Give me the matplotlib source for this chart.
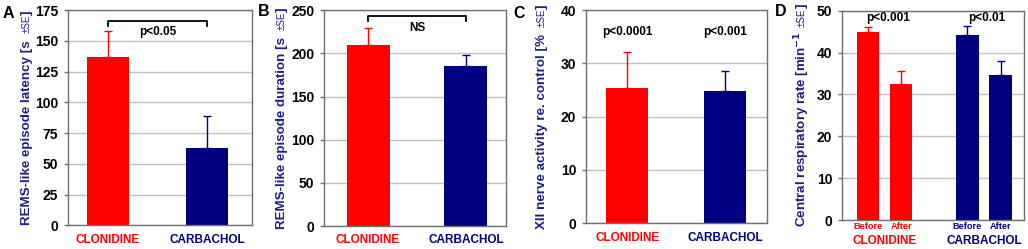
import matplotlib
matplotlib.use('Agg')
import matplotlib.pyplot as plt
import numpy as np

plt.rcParams['font.family'] = ['Liberation Sans', 'DejaVu Sans']
plt.rcParams['font.weight'] = 'bold'

groups = ['CLONIDINE', 'CARBACHOL']
colors = ['#FF0000', '#000080']
label_color = '#1F1F80'

latency = [137, 62.6]
latency_se = [21.2, 26.0]
duration = [210, 185]
duration_se = [19, 13]
xii = [25.3, 24.9]
xii_se = [6.9, 3.6]
resp_before = [44.8, 44.3]
resp_before_se = [1.4, 2.1]
resp_after = [32.6, 34.6]
resp_after_se = [3.0, 3.5]
phases = ['Before', 'After']

W, H = 1028, 249
fig = plt.figure(figsize=(W / 100, H / 100), dpi=100)


def add_axes(left, right, top, bottom):
    return fig.add_axes([left / W, 1 - bottom / H, (right - left) / W, (bottom - top) / H])


def setup(ax, ymax, step, xlim):
    ax.set_ylim(0, ymax)
    ax.set_yticks(np.arange(0, ymax + 1, step))
    ax.set_xlim(xlim)
    ax.yaxis.grid(True, color='#c0c0c0', lw=1)
    ax.set_axisbelow(True)
    for s in ax.spines.values():
        s.set_color('#707070')
        s.set_linewidth(1)
    ax.tick_params(axis='y', direction='out', length=3, width=1, color='#707070',
                   labelsize=10, pad=4)
    ax.tick_params(axis='x', length=0, pad=6, labelsize=8.5)


def bars(ax, x, vals, se, cols, width):
    ax.bar(x, vals, width, color=cols, zorder=2)
    for xi, v, e, c in zip(x, vals, se, cols):
        ax.errorbar(xi, v, yerr=[[0], [e]], color=c, lw=1, capsize=3, capthick=1, zorder=3)


def ylab(ax, xpix, main, small, end=']'):
    pieces = [(main, 9.6, 'bold'), (small, 7, 'normal'), (end, 9.6, 'bold')]
    texts = [fig.text(xpix / W, 0, t, rotation=90, ha='center', va='bottom',
                      fontsize=fs, fontweight=fw, color=label_color)
             for t, fs, fw in pieces]
    fig.canvas.draw()
    r = fig.canvas.get_renderer()
    hs = [t.get_window_extent(r).height for t in texts]
    gap = 3
    total = sum(hs) + gap
    bb = ax.get_window_extent(r)
    y = (bb.y0 + bb.y1) / 2 - total / 2
    texts[0].set_position((xpix / W, y / H))
    y += hs[0] + gap
    texts[1].set_position((xpix / W, y / H))
    y += hs[1]
    texts[2].set_position((xpix / W, y / H))


def xlabels(ax, labels, cols, size=8.5):
    ax.set_xticks(range(len(labels)))
    ax.set_xticklabels(labels, fontsize=size)
    for t, c in zip(ax.get_xticklabels(), cols):
        t.set_color(c)


def bracket(ax, x0, x1, y, drop, text, ty):
    ax.plot([x0, x0, x1, x1], [y - drop, y, y, y - drop], color='black', lw=1.3,
            clip_on=False, zorder=4)
    ax.text((x0 + x1) / 2, ty, text, ha='center', va='center', fontsize=8.5)


# Panel A
axA = add_axes(68, 252, 10, 225.3)
setup(axA, 175, 25, (-0.403, 1.456))
bars(axA, [0, 1], latency, latency_se, colors, 0.43)
xlabels(axA, groups, colors)
bracket(axA, 0, 1, 166.3, 4.3, 'p<0.05', 157)
ylab(axA, 27, 'REMS-like episode latency [s ', '\u00b1SE')
fig.text(3 / W, 1 - 13 / H, 'A', fontsize=11.5, va='center', ha='left')

# Panel B
axB = add_axes(324, 506, 10.3, 226)
setup(axB, 250, 50, (-0.45, 1.409))
bars(axB, [0, 1], duration, duration_se, colors, 0.44)
xlabels(axB, groups, colors)
bracket(axB, 0, 1, 243.6, 5.8, 'NS', 229)
ylab(axB, 282, 'REMS-like episode duration [s ', '\u00b1SE')
fig.text(258 / W, 1 - 12 / H, 'B', fontsize=11.5, va='center', ha='left')

# Panel C
axC = add_axes(586, 767, 10, 223.3)
setup(axC, 40, 10, (-0.42, 1.428))
bars(axC, [0, 1], xii, xii_se, colors, 0.43)
xlabels(axC, groups, colors)
axC.text(0, 35.9, 'p<0.0001', ha='center', va='center', fontsize=8.5)
axC.text(1, 35.9, 'p<0.001', ha='center', va='center', fontsize=8.5)
ylab(axC, 542, 'XII nerve activity re. control [% ', '\u00b1SE')
fig.text(513 / W, 1 - 14 / H, 'C', fontsize=11.5, va='center', ha='left')

# Panel D
axD = add_axes(842, 1024, 10.7, 220)
setup(axD, 50, 10, (-0.79, 4.71))
xD = [0, 1, 3, 4]
valsD = [resp_before[0], resp_after[0], resp_before[1], resp_after[1]]
seD = [resp_before_se[0], resp_after_se[0], resp_before_se[1], resp_after_se[1]]
colsD = [colors[0], colors[0], colors[1], colors[1]]
bars(axD, xD, valsD, seD, colsD, 0.67)
axD.set_xticks(xD)
axD.set_xticklabels(phases * 2, fontsize=6.6)
axD.tick_params(axis='x', pad=1.5)
for t, c in zip(axD.get_xticklabels(), colsD):
    t.set_color(c)
for cx, g, c in zip([0.5, 3.5], groups, colors):
    axD.text(cx, -0.1, g, transform=axD.get_xaxis_transform(), ha='center', va='center',
             fontsize=8.5, color=c)
axD.text(0.6, 48.2, 'p<0.001', ha='center', va='center', fontsize=8.5)
axD.text(3.6, 48.2, 'p<0.01', ha='center', va='center', fontsize=8.5)
ylab(axD, 802, 'Central respiratory rate [min$^{\\mathbf{-1}}$ ', '\u00b1SE')
fig.text(775 / W, 1 - 12 / H, 'D', fontsize=11.5, va='center', ha='left')

fig.savefig('out.png', dpi=100)
